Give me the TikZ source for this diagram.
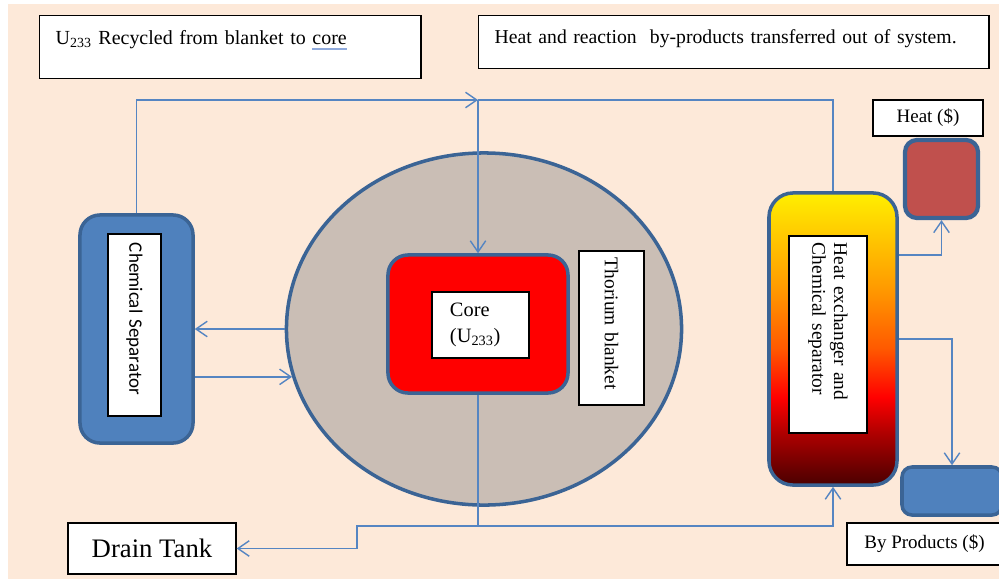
\documentclass[tikz,border=0pt]{standalone}
\usepackage{amsmath}
\usepackage{fontspec}
\setmainfont{Liberation Serif}
\newfontfamily\calibrifont{Carlito}
\usetikzlibrary{arrows.meta,shapes.geometric}

\definecolor{peach}{HTML}{FDE9D9}
\definecolor{officeblue}{HTML}{4F81BD}
\definecolor{officeedge}{HTML}{3B6495}
\definecolor{flowblue}{HTML}{5585C2}
\definecolor{blanketgrey}{HTML}{CABEB5}
\definecolor{heatred}{HTML}{C0504D}
\definecolor{squiggle}{HTML}{8FAADC}
\definecolor{fireyellow}{HTML}{FFEF00}
\definecolor{fireamber}{HTML}{FFC000}
\definecolor{fireorange}{HTML}{FF9900}
\definecolor{firemid}{HTML}{FF5A00}
\definecolor{firered}{HTML}{FF0000}
\definecolor{firedark}{HTML}{B00000}
\definecolor{fireblack}{HTML}{4A0000}

\pgfdeclareverticalshading{fire}{100bp}{color(0bp)=(fireblack); color(25bp)=(fireblack); color(34bp)=(firedark); color(40bp)=(firered); color(48.5bp)=(firemid); color(58.5bp)=(fireorange); color(66bp)=(fireamber); color(75bp)=(fireyellow); color(100bp)=(fireyellow)}

%% wavy spell-check mark under a word
\newcommand{\spellmark}[1]{\setbox0\hbox{#1}\rlap{\color{squiggle}\rule[-3.5pt]{\wd0}{1.4pt}}\box0}

\tikzset{
  unit/.style = {draw = officeedge, line width = 2.5pt, rounded corners = 0.5cm, inner sep = 0pt},
  tag/.style = {draw = black, fill = white, line width = 1pt, inner sep = 0pt},
  flow/.style = {draw = flowblue, line width = 1pt, -{Straight Barb[length = 8pt, width = 11pt]}},
  pipe/.style = {draw = flowblue, line width = 1pt},
}

\begin{document}
\begin{tikzpicture}[x = 0.025cm, y = -0.025cm]
  \useasboundingbox (0,0) rectangle (999,579);
  \clip (0,0) rectangle (999,579);
  \fill[white] (0,0) rectangle (999,579);
  \fill[peach] (8,4) rectangle (999,579);

%% notes along the top
  \node[tag, anchor = north west, text width = 8.725cm, inner xsep = 0.4cm, text height = 0.725cm, text depth = 0.85cm, align = left, font = \fontsize{14.2}{17}\selectfont] (recycle) at (39,15) {U\textsubscript{233} Recycled from blanket to \spellmark{core}};
  \node[tag, anchor = north west, text width = 11.95cm, inner xsep = 0.4cm, text height = 0.7cm, text depth = 0.625cm, align = left, font = \fontsize{14}{17}\selectfont] (outflow) at (478,15) {Heat and reaction\ \ by-products transferred out of system.};

%% chemical separator on the left
  \node[unit, fill = officeblue, minimum width = 2.825cm, minimum height = 5.7cm] (separator) at (136.5,329) {};
  \node[tag, rotate = -90, text width = 4.1cm, inner xsep = 0.225cm, minimum height = 1.325cm, align = left, font = \calibrifont\fontsize{13.5}{16}\selectfont] (separatortext) at (134.5,325) {Chemical Separator};

%% blanket and core
  \node[ellipse, draw = officeedge, fill = blanketgrey, line width = 2.5pt, minimum width = 9.875cm, minimum height = 8.8cm, inner sep = 0pt] (blanket) at (484,329) {};
  \node[unit, fill = red, minimum width = 4.5cm, minimum height = 3.45cm] (core) at (478,324) {};
  \node[tag, text width = 1.525cm, inner xsep = 0.45cm, minimum height = 1.65cm, align = left, font = \fontsize{14.5}{19}\selectfont] (coretext) at (480.5,325) {Core\\(U\textsubscript{233})};
  \node[tag, rotate = -90, text width = 3.5cm, inner xsep = 0.175cm, minimum height = 1.625cm, align = left, font = \fontsize{13.8}{16}\selectfont] (thorium) at (611.5,328) {Thorium blanket};

%% heat exchanger and outputs
  \node[unit, shading = fire, minimum width = 3.2cm, minimum height = 7.3cm, rounded corners = 0.6cm] (exchanger) at (833,339) {};
  \node[tag, rotate = -90, text width = 4.575cm, inner xsep = 0.175cm, minimum height = 1.95cm, align = left, font = \fontsize{13.8}{15.5}\selectfont] (exchangertext) at (828,334.5) {Heat exchanger and\\Chemical separator};
  \node[unit, fill = heatred, line width = 3pt, rounded corners = 0.3cm, minimum width = 1.825cm, minimum height = 1.95cm] (heat) at (941.5,179) {};
  \node[tag, minimum width = 2.75cm, minimum height = 0.9cm, font = \fontsize{13.5}{16}\selectfont] (heattext) at (928,118) {Heat (\$)};
  \node[unit, fill = officeblue, rounded corners = 0.25cm, minimum width = 2.5cm, minimum height = 1.2cm] (byproducts) at (952,491) {};
  \node[tag, minimum width = 3.875cm, minimum height = 1.05cm, font = \fontsize{13.5}{16}\selectfont] (byproductstext) at (924.5,544) {By Products (\$)};
  \node[tag, minimum width = 4.2cm, minimum height = 1.275cm, font = \fontsize{19}{22}\selectfont] (drain) at (152,548.5) {Drain Tank};

%% connectors
  \coordinate (split) at (478,100);
  \coordinate (merge) at (478,526);
  \draw[flow] (separator.north) |- (split);
  \draw[flow] (split) -- (core.north);
  \draw[pipe] (exchanger.north) |- (split);
  \draw[flow] (blanket.west) -- (separator.east |- blanket.west);
  \draw[flow] (separator.east |- blanket.194) -- (blanket.194);
  \draw[pipe] (core.south) -- (merge);
  \draw[flow] (merge) -| (exchanger.south);
  \draw[flow] (merge) -- ++(-121,0) |- (drain.east);
  \draw[flow] ([yshift = 2.1cm]exchanger.east) -| (heat.south);
  \draw[flow] (exchanger.east) -| (byproducts.north);
\end{tikzpicture}
\end{document}
